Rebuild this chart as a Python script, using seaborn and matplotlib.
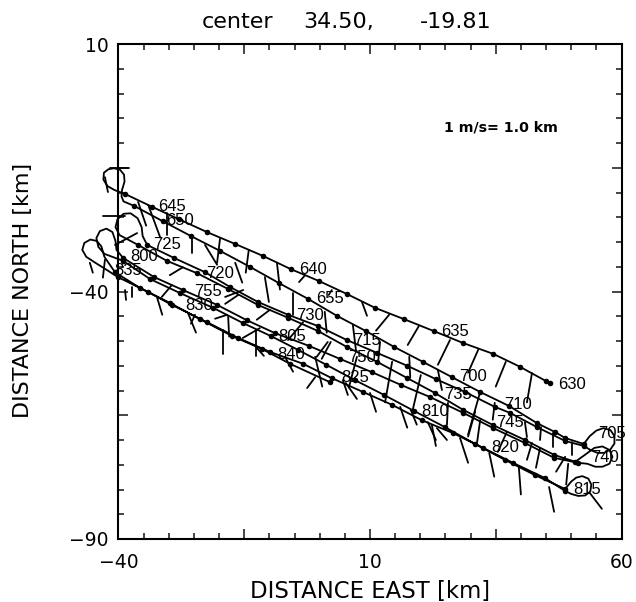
import matplotlib
matplotlib.use('Agg')
import matplotlib.pyplot as plt
import pandas as pd
import seaborn as sns

# ship track, leg by leg, km from the centre position
leg1_x = [45.8, 45.0, 39.8, 34.5, 28.5, 22.7, 16.8, 11.0, 5.4, -0.1, -5.7, -11.3, -16.8, -22.4, -28.0, -33.3, -38.7]
leg1_y = [-58.5, -58.1, -55.2, -52.6, -50.4, -48.0, -45.6, -43.3, -40.5, -37.9, -35.5, -32.8, -30.4, -28.0, -25.4, -22.9, -20.3]
turn1_x = [-40.8, -42.2, -43.0, -42.9, -42.0, -40.9, -39.7, -38.9, -38.8, -39.3, -39.4, -39.0]
turn1_y = [-19.5, -18.7, -17.4, -16.0, -15.3, -15.1, -15.4, -16.4, -17.8, -19.5, -20.8, -21.8]
leg2_x = [-36.9, -31.2, -25.6, -19.8, -13.9, -8.1, -2.3, 3.4, 9.2, 14.8, 20.5, 26.3, 31.9, 37.6, 43.2, 46.8, 48.8, 52.5]
leg2_y = [-22.7, -25.8, -28.8, -31.8, -35.0, -38.3, -41.5, -44.9, -48.0, -51.2, -54.2, -57.3, -60.3, -63.1, -66.6, -68.4, -69.6, -70.8]
turn2_x = [53.7, 55.0, 56.4, 57.8, 58.6, 58.6, 57.8, 56.6, 55.2, 53.8]
turn2_y = [-69.2, -68.1, -67.6, -68.0, -69.2, -70.7, -71.9, -72.6, -72.6, -72.0]
leg3_x = [52.5, 48.8, 43.2, 37.8, 34.8, 28.9, 23.1, 17.4, 11.4, 5.4, -0.3, -6.3, -12.3, -17.8, -22.8, -29.0, -34.3]
leg3_y = [-71.2, -70.2, -67.4, -64.5, -63.3, -60.3, -57.7, -55.0, -52.4, -49.8, -47.0, -44.7, -42.1, -39.1, -36.1, -33.2, -30.6]
turn3_x = [-35.2, -35.4, -36.2, -37.6, -39.0, -40.2, -40.6, -39.8]
turn3_y = [-28.8, -27.0, -25.2, -24.2, -24.3, -25.4, -27.0, -28.6]
leg4_x = [-36.1, -30.4, -24.4, -18.2, -12.3, -6.3, -0.3, 5.4, 11.4, 17.4, 22.9, 28.5, 34.5, 40.8, 46.6, 50.8]
leg4_y = [-30.6, -33.8, -36.3, -39.5, -42.7, -45.3, -48.0, -51.2, -54.2, -57.5, -60.5, -63.9, -67.0, -70.0, -73.0, -74.4]
turn4_x = [53.0, 54.6, 56.2, 57.6, 58.2, 57.6, 56.2, 54.8, 53.2]
turn4_y = [-72.8, -71.6, -71.3, -72.0, -73.4, -74.8, -75.4, -75.4, -74.8]
leg5_x = [51.3, 46.6, 40.8, 34.5, 28.5, 21.9, 16.2, 10.4, 4.0, -2.1, -8.9, -14.5, -20.4, -27.2, -32.9, -39.1]
leg5_y = [-74.6, -73.6, -70.6, -67.6, -64.5, -61.3, -58.9, -56.3, -53.6, -51.0, -48.4, -45.8, -42.7, -39.7, -37.1, -33.2]
turn5_x = [-40.4, -40.6, -41.2, -42.4, -43.7, -44.4, -44.0, -42.8]
turn5_y = [-31.6, -29.8, -28.0, -27.3, -27.8, -29.2, -31.0, -32.4]
leg6_x = [-39.1, -33.7, -27.8, -21.2, -15.2, -9.7, -4.3, 1.3, 7.0, 12.8, 18.7, 24.9, 30.9, 36.8, 42.8, 48.8]
leg6_y = [-33.8, -37.5, -40.3, -43.3, -46.4, -49.0, -51.8, -54.8, -57.9, -60.9, -64.1, -67.4, -70.8, -74.0, -77.1, -79.9]
turn6_x = [50.0, 51.0, 52.2, 53.4, 54.0, 53.8, 52.8, 51.4, 50.0]
turn6_y = [-78.4, -77.6, -77.3, -77.8, -79.0, -80.4, -81.2, -81.3, -80.9]
leg7_x = [48.8, 44.8, 38.4, 32.5, 26.5, 20.3, 14.4, 8.6, 2.4, -3.3, -9.9, -16.2, -22.4, -29.4, -34.1, -40.1]
leg7_y = [-80.3, -77.7, -74.6, -71.6, -68.6, -66.0, -62.9, -60.3, -57.5, -54.6, -52.2, -49.4, -46.2, -42.7, -40.1, -37.1]
turn7_x = [-42.4, -44.6, -46.4, -47.2, -46.8, -45.6, -44.3, -43.4, -42.8]
turn7_y = [-35.6, -34.2, -33.0, -31.6, -30.2, -29.5, -29.8, -30.9, -33.0]
leg8_x = [-40.7, -35.7, -29.8, -23.8, -17.4, -11.5, -5.9, 2.0]
leg8_y = [-36.1, -39.3, -42.3, -45.6, -49.0, -51.6, -54.6, -58.3]

# current sticks, 1 m/s = 1 km
stick_x = [42.2, 37.0, 31.5, 25.9, 19.7, 13.8, 8.4, 2.4, -2.9, -8.5, -14.1, -19.8, -30.4, -34.1, -36.1, -41.7, -38.7, -42.7,
           -10.9, -16.8, -22.8, -25.4, -5.3, 1.0, 6.6, 12.0, 17.8, 23.5, 31.9, 34.8, 40.8, 44.0, 46.4, 50.2,
           -16.2, -9.9, -18.4, -11.9, -18.2, -12.7, -19.2, 2.2, 1.6, -3.3, -0.9, -0.9, -6.9, 7.4, 14.4, 20.1, 25.5, 31.9, 30.9,
           42.2, 43.8, 48.8, 49.4, 37.2,
           27.9, 33.7, 39.6, 45.6, 22.3, 23.3, 53.7, 16.0, 21.5, 10.0, 5.2, 4.6, 18.1, -26.2, -24.8, -12.5, -32.3, -38.7, -37.3, -45.7, -42.7,
           -29.8, -31.4, -40.7, -18.8]
stick_y = [-56.5, -54.2, -51.8, -49.8, -47.0, -44.7, -42.1, -39.7, -36.7, -34.2, -31.6, -29.2, -24.1, -22.5, -21.9, -15.0, -24.7, -16.9,
           -37.1, -34.2, -30.6, -28.6, -40.3, -44.1, -46.8, -50.2, -53.2, -55.9, -60.3, -62.5, -66.4, -67.4, -68.6, -70.4,
           -40.7, -43.7, -44.7, -47.4, -45.1, -47.8, -47.8, -50.2, -50.2, -46.2, -53.2, -57.3, -53.2, -53.2, -54.2, -56.9, -62.5, -66.0, -64.3,
           -70.6, -71.6, -73.4, -74.8, -68.4,
           -69.6, -72.6, -75.6, -79.5, -67.0, -67.6, -80.7, -63.3, -66.4, -60.5, -58.5, -57.9, -63.9, -44.3, -44.7, -51.4, -41.3, -39.7, -39.1, -34.2, -33.6,
           -36.7, -41.1, -30.6, -41.1]
stick_u = [-1.0, -2.0, -2.0, -2.4, -2.2, -2.6, 1.0, -0.6, -1.2, 0.6, -0.6, -0.6, 0.0, 2.4, 1.6, 3.8, -4.4, 0.6,
           0.8, 1.4, 2.4, 0.0, 0.0, 0.4, 0.6, -0.4, 0.2, 0.8, -2.4, -0.4, 0.4, -0.2, 0.0, 0.0,
           -2.6, -2.6, -2.4, -3.4, 0.2, 0.0, 0.0, -1.8, -2.2, -3.0, 1.4, -1.6, 1.6, -1.6, -1.4, -1.6, -0.2, -0.6, -1.4,
           -1.0, -0.8, -1.8, -0.4, -1.8,
           1.6, 1.0, 0.4, 1.0, 0.8, 2.0, 2.4, 1.4, 1.6, 1.2, 2.2, 1.0, 1.2, 1.6, -0.8, 1.4, 1.0, 0.2, 0.0, 0.6, -0.4,
           2.6, 2.0, 4.4, 3.6]
stick_v = [-5.9, -5.0, -4.6, -5.0, -3.8, -3.2, -2.8, -1.0, -1.4, -5.4, -4.6, -5.0, -4.4, -6.6, -4.8, 0.0, 0.0, -3.0,
           -5.0, -4.0, -4.0, -3.6, -4.4, -4.2, -5.0, -4.2, -4.2, -4.0, -8.6, -3.4, -3.0, -2.6, -2.8, -2.6,
           -1.8, -2.0, -0.8, -2.0, -4.0, -5.2, -4.8, -3.4, -3.0, -3.6, -6.0, -2.2, -3.0, -6.2, -8.2, -7.0, -4.4, -4.4, -5.0,
           -3.4, -4.0, -3.0, -4.2, -4.0,
           -5.0, -4.8, -5.4, -5.0, -4.2, -2.4, -3.2, -4.2, -3.6, -3.8, -3.2, -3.0, -3.0, -4.0, -1.8, -1.6, -3.4, -2.0, -2.0, -2.0, -3.6,
           1.6, 2.4, 2.4, 1.4]

# time labels along the track
time_labels = ['630', '635', '640', '645', '650', '655', '700', '705', '710', '715', '720', '725', '730', '735',
               '740', '745', '750', '755', '800', '805', '810', '815', '820', '825', '830', '835', '840']
label_x = [50.2, 26.9, -1.3, -29.4, -27.8, 2.0, 30.5, 58.1, 39.4, 9.4, -19.8, -30.4, -1.9, 27.5,
           56.7, 37.8, 8.4, -22.2, -34.9, -5.5, 22.9, 53.1, 36.8, 7.0, -24.0, -38.1, -5.7]
label_y = [-58.7, -48.0, -35.5, -22.9, -25.6, -41.5, -57.1, -68.6, -62.9, -49.8, -36.3, -30.6, -44.9, -60.9,
           -73.6, -66.4, -53.4, -40.1, -33.0, -49.0, -64.3, -79.9, -71.6, -57.3, -42.9, -35.7, -52.8]

x_ticks = [-40, -15, 10, 35, 60]
y_ticks = [-90, -65, -40, -15, 10]
x_labels = ['\u221240', '', '10', '', '60']
y_labels = ['\u221290', '', '\u221240', '', '10']

sns.set_style('white')
plt.rcParams['font.family'] = ['DejaVu Sans']
plt.rcParams['text.color'] = 'black'
plt.rcParams['axes.labelcolor'] = 'black'
plt.rcParams['xtick.labelcolor'] = 'black'
plt.rcParams['ytick.labelcolor'] = 'black'

track_x = (leg1_x + turn1_x + leg2_x + turn2_x + leg3_x + turn3_x + leg4_x + turn4_x
           + leg5_x + turn5_x + leg6_x + turn6_x + leg7_x + turn7_x + leg8_x)
track_y = (leg1_y + turn1_y + leg2_y + turn2_y + leg3_y + turn3_y + leg4_y + turn4_y
           + leg5_y + turn5_y + leg6_y + turn6_y + leg7_y + turn7_y + leg8_y)
track = pd.DataFrame({'x': track_x, 'y': track_y})
dots = pd.DataFrame({
    'x': leg1_x + leg2_x + leg3_x + leg4_x + leg5_x + leg6_x + leg7_x + leg8_x,
    'y': leg1_y + leg2_y + leg3_y + leg4_y + leg5_y + leg6_y + leg7_y + leg8_y,
})

fig = plt.figure(figsize=(6.36, 6.02), dpi=100)
ax = fig.add_axes([118.5 / 636, 1 - 539 / 602, 503 / 636, 495 / 602])

sns.lineplot(data=track, x='x', y='y', sort=False, estimator=None, color='black',
             linewidth=1.3, clip_on=False, ax=ax)
sns.scatterplot(data=dots, x='x', y='y', color='black', s=16, linewidth=0, clip_on=False, ax=ax)

for x0, y0, u, v in zip(stick_x, stick_y, stick_u, stick_v):
    ax.plot([x0, x0 + u], [y0, y0 + v], color='black', linewidth=1.3, clip_on=False)

for txt, lx, ly in zip(time_labels, label_x, label_y):
    ax.text(lx, ly, txt, ha='center', va='center', fontsize=12, family='Liberation Sans', clip_on=False)

ax.text(36.1, -6.8, '1 m/s= 1.0 km', ha='center', va='center', fontsize=10.2, fontweight='bold')

ax.set_xlim(-40, 60)
ax.set_ylim(-90, 10)
ax.set_xticks(x_ticks)
ax.set_xticklabels(x_labels)
ax.set_yticks(y_ticks)
ax.set_yticklabels(y_labels)
ax.set_xticks(range(-40, 61, 5), minor=True)
ax.set_yticks(range(-90, 11, 5), minor=True)
ax.tick_params(which='major', direction='in', length=7, width=1.2, top=True, right=True, bottom=True, left=True,
               labelsize=13.5)
ax.tick_params(which='minor', direction='in', length=4.5, width=1.2, top=True, right=True, bottom=True, left=True)
ax.tick_params(axis='x', which='major', pad=10)
ax.tick_params(axis='y', which='major', pad=7)
for side in ax.spines.values():
    side.set_linewidth(1.5)
    side.set_color('black')

ax.set_xlabel('DISTANCE EAST [km]', fontsize=16.4)
ax.set_ylabel('DISTANCE NORTH [km]', fontsize=16)
ax.xaxis.set_label_coords(0.5, -0.083)
ax.yaxis.set_label_coords(-0.170, 0.503)

fig.text(202 / 636, 1 - 22 / 602, 'center', fontsize=16, va='center')
fig.text(303 / 636, 1 - 22 / 602, '34.50,', fontsize=16, va='center')
fig.text(420 / 636, 1 - 22 / 602, '-19.81', fontsize=16, va='center')

fig.savefig('out.png', dpi=100)
